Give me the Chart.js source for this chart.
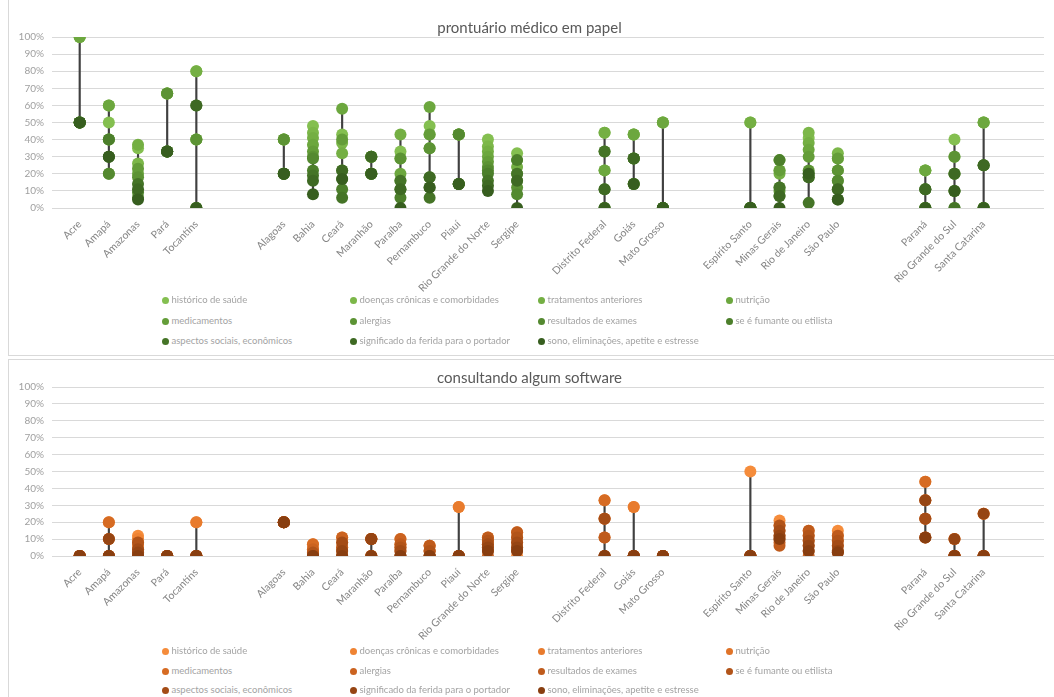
<!DOCTYPE html>
<html>
<head>
<meta charset="utf-8">
<script src="https://cdn.jsdelivr.net/npm/chart.js@4"></script>
<style>
  body { margin: 0; background: #fff; font-family: Lato, sans-serif; width: 1054px; height: 697px; overflow: hidden; position: relative; }
  .panel { position: absolute; left: 8px; width: 1050px; border: 1px solid #d9d9d9; box-sizing: border-box; }
  .chartbox { position: absolute; left: 9px; width: 1041px; height: 300px; }
  .item { position: absolute; font-size: 9.5px; color: #a3a3a3; white-space: nowrap; line-height: 12px; }
  .item i { display: inline-block; width: 7px; height: 7px; border-radius: 50%; margin-right: 3px; vertical-align: -0.5px; }
</style>
</head>
<body>
<div class="panel" style="top:-2px;height:358px"></div>
<div class="panel" style="top:359px;height:345px"></div>
<div class="chartbox" style="top:0"><canvas id="papelChart"></canvas></div>
<div class="chartbox" style="top:360px"><canvas id="softwareChart"></canvas></div>
<div id="legend1"></div>
<div id="legend2"></div>

<script>
// states grouped by region, '' = gap between regions
const categories = ['Acre', 'Amapá', 'Amazonas', 'Pará', 'Tocantins', '', '',
  'Alagoas', 'Bahia', 'Ceará', 'Maranhão', 'Paraíba', 'Pernambuco', 'Piauí', 'Rio Grande do Norte', 'Sergipe', '', '',
  'Distrito Federal', 'Goiás', 'Mato Grosso', '', '',
  'Espírito Santo', 'Minas Gerais', 'Rio de Janeiro', 'São Paulo', '', '',
  'Paraná', 'Rio Grande do Sul', 'Santa Catarina'];

const seriesNames = ['histórico de saúde', 'doenças crônicas e comorbidades', 'tratamentos anteriores', 'nutrição',
  'medicamentos', 'alergias', 'resultados de exames', 'se é fumante ou etilista',
  'aspectos sociais, econômicos', 'significado da ferida para o portador', 'sono, eliminações, apetite e estresse'];

const n = null;

// prontuário médico em papel (%)
const papelHistorico   = [100, 50, 35, 67, 80, n, n, 40, 48, 43, 30, 33, 48, 43, 40, 32, n, n, 44, 43, 50, n, n, 50, 22, 41, 29, n, n, 22, 40, 50];
const papelDoencas     = [100, 60, 26, 67, 40, n, n, 40, 44, 38, 20, 29, 43, 43, 36, 28, n, n, 22, 43, 50, n, n, 0, 28, 44, 32, n, n, 22, 30, 50];
const papelTratamentos = [50, 40, 37, 33, 80, n, n, 20, 41, 32, 30, 43, 35, 43, 33, 24, n, n, 44, 14, 0, n, n, 50, 20, 38, 22, n, n, 0, 20, 0];
const papelNutricao    = [100, 60, 20, 67, 40, n, n, 40, 37, 58, 20, 20, 59, 14, 30, 20, n, n, 22, 43, 50, n, n, 0, 12, 34, 16, n, n, 22, 10, 50];
const papelMedicamentos= [50, 20, 23, 33, 0, n, n, 20, 33, 40, 30, 16, 43, 43, 27, 16, n, n, 0, 14, 0, n, n, 0, 22, 30, 29, n, n, 0, 0, 0];
const papelAlergias    = [50, 40, 18, 67, 40, n, n, 40, 30, 22, 20, 29, 35, 14, 24, 12, n, n, 33, 29, 0, n, n, 0, 10, 22, 22, n, n, 0, 30, 0];
const papelExames      = [50, 20, 9, 33, 0, n, n, 20, 29, 17, 30, 11, 18, 43, 22, 8, n, n, 11, 14, 0, n, n, 0, 7, 20, 16, n, n, 11, 20, 25];
const papelFumante     = [50, 40, 6, 33, 0, n, n, 20, 22, 11, 20, 6, 12, 14, 20, 28, n, n, 0, 29, 0, n, n, 0, 28, 18, 11, n, n, 0, 10, 0];
const papelAspectos    = [50, 30, 14, 33, 60, n, n, 20, 19, 6, 20, 16, 6, 14, 16, 20, n, n, 33, 29, 0, n, n, 0, 12, 3, 5, n, n, 11, 0, 25];
const papelSignificado = [50, 30, 11, 33, 60, n, n, 20, 16, 22, 30, 11, 18, 14, 13, 16, n, n, 11, 29, 0, n, n, 0, 7, 18, 11, n, n, 11, 20, 25];
const papelSono        = [50, 30, 5, 33, 0, n, n, 20, 8, 17, 20, 0, 12, 14, 10, 0, n, n, 0, 14, 0, n, n, 0, 0, 20, 5, n, n, 0, 10, 0];

// consultando algum software (%)
const softHistorico    = [0, 20, 12, 0, 20, n, n, 20, 7, 11, 10, 10, 6, 29, 11, 0, n, n, 33, 29, 0, n, n, 50, 21, 15, 15, n, n, 44, 10, 25];
const softDoencas      = [0, 0, 10, 0, 0, n, n, 20, 4, 8, 0, 7, 3, 0, 9, 14, n, n, 22, 0, 0, n, n, 0, 18, 12, 12, n, n, 33, 0, 0];
const softTratamentos  = [0, 10, 8, 0, 20, n, n, 20, 2, 5, 10, 5, 0, 29, 7, 11, n, n, 11, 29, 0, n, n, 0, 15, 9, 9, n, n, 22, 10, 25];
const softNutricao     = [0, 0, 6, 0, 0, n, n, 20, 0, 3, 0, 3, 6, 0, 5, 8, n, n, 0, 0, 0, n, n, 0, 12, 6, 6, n, n, 11, 0, 0];
const softMedicamentos = [0, 20, 4, 0, 0, n, n, 20, 7, 0, 10, 0, 3, 0, 3, 5, n, n, 33, 0, 0, n, n, 0, 10, 3, 3, n, n, 44, 0, 0];
const softAlergias     = [0, 0, 2, 0, 0, n, n, 20, 4, 11, 0, 10, 0, 0, 0, 3, n, n, 22, 0, 0, n, n, 0, 8, 0, 2, n, n, 33, 0, 0];
const softExames       = [0, 10, 0, 0, 0, n, n, 20, 0, 5, 10, 7, 6, 0, 11, 14, n, n, 11, 0, 0, n, n, 0, 6, 15, 12, n, n, 22, 0, 0];
const softFumante      = [0, 0, 8, 0, 0, n, n, 20, 2, 0, 0, 5, 3, 0, 9, 11, n, n, 0, 0, 0, n, n, 0, 18, 12, 9, n, n, 11, 0, 0];
const softAspectos     = [0, 0, 4, 0, 0, n, n, 20, 0, 8, 10, 3, 0, 0, 7, 8, n, n, 22, 0, 0, n, n, 0, 15, 9, 6, n, n, 22, 0, 0];
const softSignificado  = [0, 10, 2, 0, 0, n, n, 20, 0, 3, 10, 0, 0, 0, 5, 5, n, n, 0, 0, 0, n, n, 0, 12, 6, 3, n, n, 33, 10, 25];
const softSono         = [0, 0, 0, 0, 0, n, n, 20, 0, 0, 0, 0, 0, 0, 3, 3, n, n, 0, 0, 0, n, n, 0, 10, 3, 2, n, n, 11, 0, 0];

const papelSeries = [papelHistorico, papelDoencas, papelTratamentos, papelNutricao, papelMedicamentos, papelAlergias,
  papelExames, papelFumante, papelAspectos, papelSignificado, papelSono];
const softSeries = [softHistorico, softDoencas, softTratamentos, softNutricao, softMedicamentos, softAlergias,
  softExames, softFumante, softAspectos, softSignificado, softSono];

const greens = ['#84bf50', '#7cb749', '#74af43', '#6ca73e', '#649d39', '#5c9334', '#548930', '#4c7f2b', '#457427', '#3e6923', '#375e1f'];
const oranges = ['#f58c3b', '#ef8333', '#e87b2d', '#e07328', '#d66b23', '#cb6320', '#bf5b1c', '#b25419', '#a44c16', '#964513', '#883e10'];

Chart.defaults.font.family = 'Lato, sans-serif';

function makeChart(id, titleText, series, colors, titleTop, xHeight) {
  const datasets = series.map((vals, s) => ({
    type: 'scatter',
    label: seriesNames[s],
    data: vals.map((v, i) => v === null ? null : { x: i, y: v }).filter(p => p),
    pointRadius: 6,
    pointHoverRadius: 6,
    pointBackgroundColor: colors[s],
    pointBorderColor: colors[s],
    pointBorderWidth: 0,
    order: 20 - s
  }));

  // high-low line per state
  const hl = [];
  categories.forEach((c, i) => {
    if (!c) return;
    const vals = series.map(a => a[i]);
    const lo = Math.min(...vals), hi = Math.max(...vals);
    if (hi > lo) hl.push({ x: i, y: [lo, hi] });
  });
  datasets.push({
    type: 'bar', label: 'hl', data: hl,
    backgroundColor: '#404040', barThickness: 1.5, grouped: false, order: 50
  });

  return new Chart(document.getElementById(id), {
    type: 'scatter',
    data: { datasets: datasets },
    options: {
      responsive: true,
      maintainAspectRatio: false,
      animation: false,
      layout: { padding: 0 },
      plugins: {
        legend: { display: false },
        tooltip: { enabled: false },
        title: {
          display: true, text: titleText, color: '#595959',
          font: { size: 15, weight: 'normal' },
          padding: { top: titleTop, bottom: 0 }
        }
      },
      scales: {
        x: {
          type: 'linear', min: -0.95, max: 33.07, offset: false,
          grid: { display: false },
          border: { display: false },
          afterBuildTicks: s => {
            s.ticks = categories.map((c, i) => ({ value: i, label: c })).filter(t => t.label);
          },
          ticks: {
            autoSkip: false, maxRotation: 45, minRotation: 45,
            color: '#858585', font: { size: 10.5 }, padding: 2,
            callback: v => categories[v]
          },
          afterFit: s => { s.height = xHeight; }
        },
        y: {
          min: 0, max: 100,
          ticks: { stepSize: 10, callback: v => v + '%', color: '#a0a0a0', font: { size: 10 }, padding: 8 },
          grid: { color: '#d9d9d9', drawTicks: false },
          border: { display: false },
          afterFit: s => { s.width = 43; }
        }
      }
    }
  });
}

function makeLegend(id, colors, rowTops) {
  const cols = [165, 353, 541, 729];
  const el = document.getElementById(id);
  seriesNames.forEach((name, s) => {
    const d = document.createElement('div');
    d.className = 'item';
    d.style.left = (cols[s % 4] - 3.5) + 'px';
    d.style.top = (rowTops[Math.floor(s / 4)] - 6) + 'px';
    d.innerHTML = '<i style="background:' + colors[s] + '"></i>' + name;
    el.appendChild(d);
  });
}

makeChart('papelChart', 'prontuário médico em papel', papelSeries, greens, 19, 92);
makeChart('softwareChart', 'consultando algum software', softSeries, oranges, 9, 104);
makeLegend('legend1', greens, [300, 321, 341]);
makeLegend('legend2', oranges, [651, 671, 690]);
</script>
</body>
</html>
